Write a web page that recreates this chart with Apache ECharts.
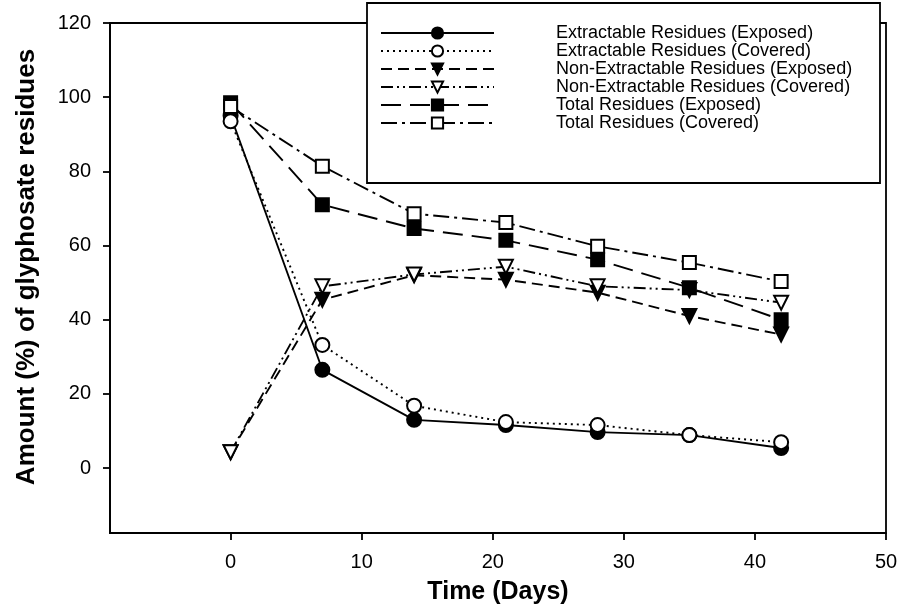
<!DOCTYPE html>
<html>
<head>
<meta charset="utf-8">
<script src="https://cdn.jsdelivr.net/npm/echarts@6/dist/echarts.min.js"></script>
<style>
  html, body { margin: 0; padding: 0; background: #fff; }
  #main { width: 902px; height: 607px; }
</style>
</head>
<body>
<div id="main"></div>
<script>
// days after application
var days = [0, 7, 14, 21, 28, 35, 42];

// amount (%) of glyphosate residues
var extExposed    = [95, 26.5, 13, 11.6, 9.7, 8.9, 5.4];
var extCovered    = [93.5, 33.2, 16.8, 12.4, 11.6, 8.9, 7];
var nonExtExposed = [4.3, 45.4, 52, 50.8, 47.3, 41, 36];
var nonExtCovered = [4.3, 49, 52.2, 54.3, 49, 48, 44.6];
var totalExposed  = [98.5, 71, 64.6, 61.4, 56.2, 48.6, 40];
var totalCovered  = [97.5, 81.4, 68.6, 66.2, 59.8, 55.4, 50.3];

var xTicks = [0, 10, 20, 30, 40, 50];
var yTicks = [0, 20, 40, 60, 80, 100, 120];

var font = "'Liberation Sans', Arial, sans-serif";

function pairs(vals) {
  return days.map(function (d, i) { return [d, vals[i]]; });
}

function makeSeries(name, vals, dash, symbol, filled, size, rotate) {
  return {
    name: name,
    type: 'line',
    data: pairs(vals),
    symbol: symbol,
    symbolSize: size,
    symbolRotate: rotate || 0,
    showSymbol: true,
    lineStyle: { color: '#000', width: 1.9, type: dash },
    itemStyle: { color: filled ? '#000' : '#fff', borderColor: '#000', borderWidth: 2 },
    emphasis: { disabled: true },
    z: 2
  };
}

var chart = echarts.init(document.getElementById('main'));

var option = {
  animation: false,
  backgroundColor: '#fff',
  textStyle: { fontFamily: font },
  grid: {
    left: 110, right: 16, top: 23, bottom: 74,
    outerBoundsMode: 'none',
    containLabel: false,
    show: true, borderColor: '#000', borderWidth: 1.8
  },
  xAxis: {
    type: 'value',
    min: -9.2,
    max: 50,
    name: 'Time (Days)',
    nameLocation: 'middle',
    nameGap: 47,
    nameTextStyle: { fontSize: 25, fontWeight: 'bold', color: '#000', fontFamily: font },
    axisLine: { onZero: false, lineStyle: { color: '#000', width: 1.8 } },
    axisTick: { show: true, inside: false, length: 7, customValues: xTicks, lineStyle: { color: '#000', width: 1.8 } },
    axisLabel: { customValues: xTicks, margin: 19, fontSize: 20, color: '#000', fontFamily: font },
    splitLine: { show: false }
  },
  yAxis: {
    type: 'value',
    min: -17.5,
    max: 120,
    name: 'Amount (%) of glyphosate residues',
    nameLocation: 'middle',
    nameGap: 70,
    nameTextStyle: { fontSize: 26, fontWeight: 'bold', color: '#000', fontFamily: font, padding: [0, 0, 0, 22] },
    axisLine: { onZero: false, lineStyle: { color: '#000', width: 1.8 } },
    axisTick: { show: true, inside: false, length: 7, customValues: yTicks, lineStyle: { color: '#000', width: 1.8 } },
    axisLabel: { customValues: yTicks, margin: 19, fontSize: 20, color: '#000', fontFamily: font },
    splitLine: { show: false }
  },
  legend: {
    orient: 'vertical',
    left: 380,
    top: 24,
    padding: 0,
    itemGap: 0,
    itemWidth: 113,
    itemHeight: 14,
    z: 10,
    selectedMode: false,
    textStyle: { fontSize: 18, lineHeight: 18, color: '#000', fontFamily: font, padding: [0, 0, 0, 57] },
    data: [
      'Extractable Residues (Exposed)',
      'Extractable Residues (Covered)',
      'Non-Extractable Residues (Exposed)',
      'Non-Extractable Residues (Covered)',
      'Total Residues (Exposed)',
      'Total Residues (Covered)'
    ]
  },
  graphic: {
    elements: [{
      type: 'rect',
      z: 8,
      shape: { x: 367, y: 3, width: 513, height: 180 },
      style: { fill: '#fff', stroke: '#000', lineWidth: 1.8 }
    }]
  },
  series: [
    makeSeries('Extractable Residues (Exposed)', extExposed, 'solid', 'circle', true, 14),
    makeSeries('Extractable Residues (Covered)', extCovered, [2, 4], 'circle', false, 14),
    makeSeries('Non-Extractable Residues (Exposed)', nonExtExposed, [11, 6], 'triangle', true, 14, 180),
    makeSeries('Non-Extractable Residues (Covered)', nonExtCovered, [12, 4, 2, 4, 2, 4], 'triangle', false, 14, 180),
    makeSeries('Total Residues (Exposed)', totalExposed, [20, 9], 'rect', true, 13),
    makeSeries('Total Residues (Covered)', totalCovered, [16, 5, 3, 5], 'rect', false, 13)
  ]
};

chart.setOption(option);
</script>
</body>
</html>
